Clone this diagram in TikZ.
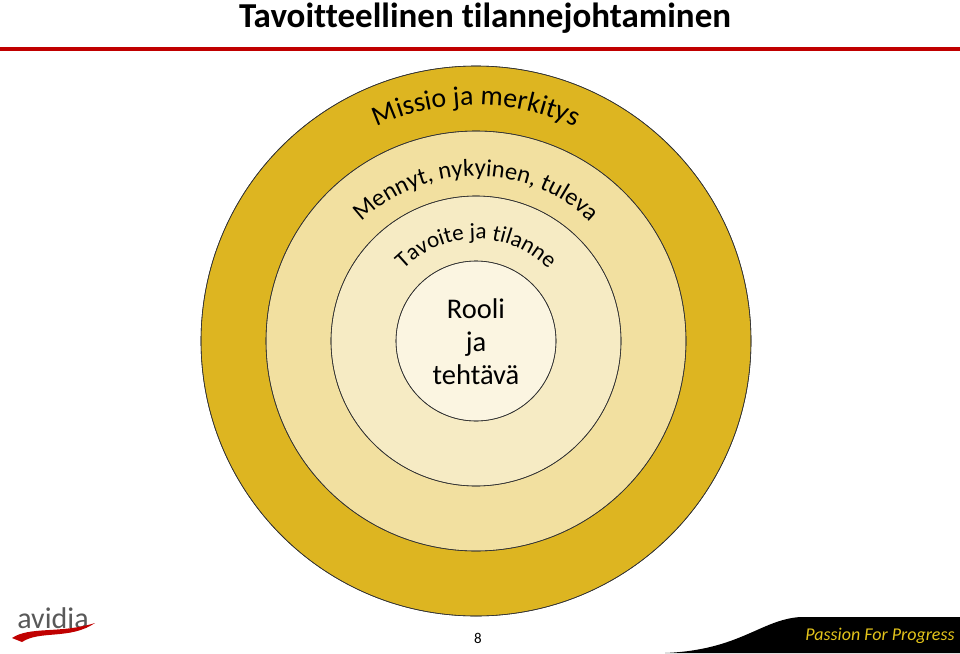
\documentclass[tikz,border=0pt]{standalone}
\usepackage{fontspec}
\setmainfont[Ligatures={NoCommon}]{Carlito}
\usetikzlibrary{decorations.text}
\definecolor{gold}{HTML}{DDB521}
\definecolor{ring2}{HTML}{F2E0A0}
\definecolor{ring3}{HTML}{F6EBC4}
\definecolor{ring4}{HTML}{FBF5E1}
\definecolor{avred}{HTML}{C00000}
\tikzset{ring/.style={draw=black!80, line width=0.6pt},
 arctext/.style={decorate, decoration={text along path, text align=center}}}
\begin{document}
\begin{tikzpicture}[x=1pt,y=-1pt]
\useasboundingbox (0,0) rectangle (960,653);
\node (title) at (485,18) {\fontsize{35}{35}\selectfont\bfseries Tavoitteellinen tilannejohtaminen};
\fill[avred] (0,47) rectangle (960,51);
\coordinate (c) at (476,341);
\fill[ring,fill=gold] (c) circle[radius=275];
\fill[ring,fill=ring2] (c) circle[radius=210];
\fill[ring,fill=ring3] (c) circle[radius=145];
\fill[ring,fill=ring4] (c) circle[radius=80];
\draw[ring] (c) circle[radius=275] (c) circle[radius=210] (c) circle[radius=145] (c) circle[radius=80];
\path[arctext, decoration={text={|\fontsize{28}{28}\selectfont|Missio ja merkitys}}]
  (c) ++(-150:236) arc[start angle=-150, end angle=-30, radius=236];
\path[arctext, decoration={text={|\fontsize{24.5}{24.5}\selectfont|Mennyt, nykyinen, tuleva}}]
  (c) ++(-160:165) arc[start angle=-160, end angle=-20, radius=165];
\path[arctext, decoration={text={|\fontsize{23}{23}\selectfont|Tavoite ja tilanne}}]
  (c) ++(-155:102) arc[start angle=-155, end angle=-25, radius=102];
\node[align=center, font=\fontsize{28.5}{33}\selectfont] (inner) at (476,342) {Rooli\\ja\\tehtävä};
% footer
\node[text=black!65, font=\fontsize{30}{30}\selectfont] (logo) at (53,618) {avidia};
\fill[avred] (12,638) .. controls (30,626) and (60,634) .. (95,623) .. controls (70,640) and (40,630) .. (22,642) -- cycle;
\node (page) at (478,638) {\fontsize{15}{15}\selectfont 8};
\fill[black] (665,653) .. controls (740,650) and (760,620) .. (800,617) -- (960,617) -- (960,653) -- cycle;
\node[text=gold!80!yellow, font=\fontsize{18}{18}\selectfont\itshape] (slogan) at (880,636) {Passion For Progress};
\end{tikzpicture}
\end{document}
